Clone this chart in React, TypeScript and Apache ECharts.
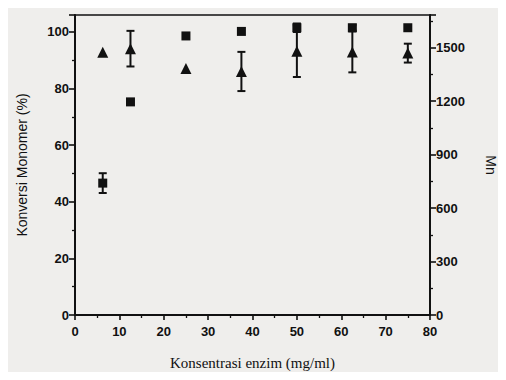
import React, { useEffect, useRef } from "react";
import * as echarts from "echarts";

const enzymeConc = [6.25, 12.5, 25, 37.5, 50, 62.5, 75];
const conversion = [46.6, 75.3, 98.6, 100.2, 101.5, 101.5, 101.5];
const conversionErr = [3.5, 0, 0, 0, 1.5, 1, 0];
const mnValues = [1475, 1495, 1383, 1367, 1481, 1477, 1470];
const mnErr = [0, 100, 0, 110, 145, 115, 53];
const xTicks = [0, 10, 20, 30, 40, 50, 60, 70, 80];
const leftTicks = [0, 20, 40, 60, 80, 100];
const rightTicks = [0, 300, 600, 900, 1200, 1500];

const INK = "#111111";

function errRender(params: any, api: any) {
  const x = api.value(0);
  const y = api.value(1);
  const e = api.value(2);
  if (!e) return null;
  const hi = api.coord([x, y + e]);
  const lo = api.coord([x, y - e]);
  const w = 4;
  const style = { stroke: INK, lineWidth: 2 };
  return {
    type: "group",
    children: [
      { type: "line", shape: { x1: hi[0], y1: hi[1], x2: lo[0], y2: lo[1] }, style },
      { type: "line", shape: { x1: hi[0] - w, y1: hi[1], x2: hi[0] + w, y2: hi[1] }, style },
      { type: "line", shape: { x1: lo[0] - w, y1: lo[1], x2: lo[0] + w, y2: lo[1] }, style },
    ],
  };
}

export default function App() {
  const ref = useRef<HTMLDivElement>(null);
  useEffect(() => {
    if (!ref.current) return;
    const chart = echarts.init(ref.current, undefined, { renderer: "svg" });
    const labelStyle = {
      color: INK,
      fontFamily: "Liberation Sans",
      fontWeight: "bold" as const,
      fontSize: 13,
    };
    chart.setOption({
      animation: false,
      backgroundColor: "#efeeec",
      grid: {
        left: 75,
        right: 66,
        top: 15,
        bottom: 65,
        show: true,
        borderColor: INK,
        borderWidth: 1.6,
        backgroundColor: "transparent",
      },
      xAxis: {
        type: "value",
        min: 0,
        max: 80,
        interval: 10,
        name: "Konsentrasi enzim (mg/ml)",
        nameLocation: "middle",
        nameGap: 40,
        nameTextStyle: { color: INK, fontFamily: "Liberation Serif", fontSize: 15 },
        axisLine: { show: true, lineStyle: { color: INK, width: 2 } },
        axisTick: { show: true, length: 5, lineStyle: { color: INK, width: 1.6 } },
        minorTick: { show: true, splitNumber: 2, length: 3, lineStyle: { color: INK, width: 1.3 } },
        splitLine: { show: false },
        axisLabel: {
          ...labelStyle,
          margin: 10,
          formatter: (v: number) => (xTicks.includes(v) ? String(v) : ""),
        },
      },
      yAxis: [
        {
          type: "value",
          min: 0,
          max: 106,
          interval: 20,
          name: "Konversi Monomer (%)",
          nameLocation: "middle",
          nameGap: 46,
          nameTextStyle: { color: INK, fontFamily: "Liberation Sans", fontSize: 14 },
          axisLine: { show: true, lineStyle: { color: INK, width: 2 } },
          axisTick: { show: true, length: 6, lineStyle: { color: INK, width: 1.6 } },
          minorTick: { show: true, splitNumber: 2, length: 3, lineStyle: { color: INK, width: 1.3 } },
          splitLine: { show: false },
          axisLabel: {
            ...labelStyle,
            margin: 6,
            showMaxLabel: false,
            formatter: (v: number) => (leftTicks.includes(v) ? String(v) : ""),
          },
        },
        {
          type: "value",
          min: 0,
          max: 1684,
          interval: 300,
          position: "right",
          name: "Mn",
          nameLocation: "middle",
          nameRotate: -90,
          nameGap: 54,
          nameTextStyle: { color: INK, fontFamily: "Liberation Sans", fontSize: 14 },
          axisLine: { show: true, lineStyle: { color: INK, width: 2 } },
          axisTick: { show: true, length: 6, lineStyle: { color: INK, width: 1.6 } },
          minorTick: { show: true, splitNumber: 2, length: 3, lineStyle: { color: INK, width: 1.3 } },
          splitLine: { show: false },
          axisLabel: {
            ...labelStyle,
            margin: 6,
            showMaxLabel: false,
            formatter: (v: number) => (rightTicks.includes(v) ? String(v) : ""),
          },
        },
      ],
      series: [
        {
          type: "custom",
          yAxisIndex: 0,
          renderItem: errRender,
          data: enzymeConc.map((x, i) => [x, conversion[i], conversionErr[i]]),
          z: 3,
        },
        {
          type: "custom",
          yAxisIndex: 1,
          renderItem: errRender,
          data: enzymeConc.map((x, i) => [x, mnValues[i], mnErr[i]]),
          z: 3,
        },
        {
          type: "scatter",
          yAxisIndex: 0,
          symbol: "rect",
          symbolSize: 9,
          itemStyle: { color: INK, opacity: 1 },
          data: enzymeConc.map((x, i) => [x, conversion[i]]),
          z: 4,
        },
        {
          type: "scatter",
          yAxisIndex: 1,
          symbol: "triangle",
          symbolSize: 11,
          itemStyle: { color: INK, opacity: 1 },
          data: enzymeConc.map((x, i) => [x, mnValues[i]]),
          z: 4,
        },
      ],
    });
    return () => chart.dispose();
  }, []);
  return <div ref={ref} style={{ width: 506, height: 380, margin: -8 }} />;
}
